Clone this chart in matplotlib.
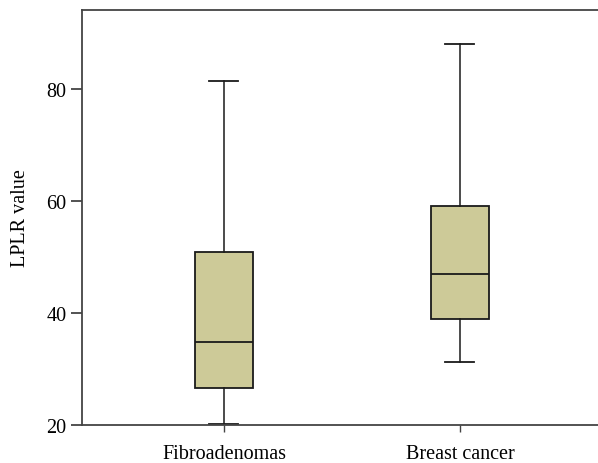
import matplotlib.pyplot as plt

groups = ["Fibroadenomas", "Breast cancer"]
whislo = [20.1, 31.2]
q1 = [26.5, 38.8]
med = [34.7, 46.9]
q3 = [50.8, 59.0]
whishi = [81.3, 88.0]
yticks = [20, 40, 60, 80]

plt.rcParams['font.family'] = ['Liberation Serif', 'DejaVu Serif']

fig = plt.figure(figsize=(5.98, 4.64), dpi=100)
ax = fig.add_axes([0.137, 0.0825, 0.863, 0.8945])

stats = []
for i, name in enumerate(groups):
    stats.append(dict(label=name, whislo=whislo[i], q1=q1[i], med=med[i],
                      q3=q3[i], whishi=whishi[i], fliers=[]))

edge = "#1a1a1a"
ax.bxp(stats, positions=[1, 2], widths=0.246, patch_artist=True,
       showfliers=False,
       boxprops=dict(facecolor="#cdca98", edgecolor=edge, linewidth=1.3),
       medianprops=dict(color=edge, linewidth=1.3),
       whiskerprops=dict(color=edge, linewidth=1.1),
       capprops=dict(color=edge, linewidth=1.3))

ax.set_xlim(0.398, 2.585)
ax.set_ylim(20, 94.1)
ax.set_yticks(yticks)
ax.set_xticks([1, 2])
ax.set_xticklabels(groups)
ax.set_ylabel("LPLR value", fontsize=14.5, labelpad=12)

for s in ["left", "top", "bottom"]:
    ax.spines[s].set_color("#444444")
    ax.spines[s].set_linewidth(1.3)
ax.spines["right"].set_visible(False)
ax.tick_params(axis="y", direction="out", length=8, width=1.3,
               color="#444444", labelsize=14.5, pad=3)
ax.tick_params(axis="x", direction="out", length=5, width=1.0,
               color="#444444", labelsize=14.5, pad=9)

fig.savefig("out.png", dpi=100)
